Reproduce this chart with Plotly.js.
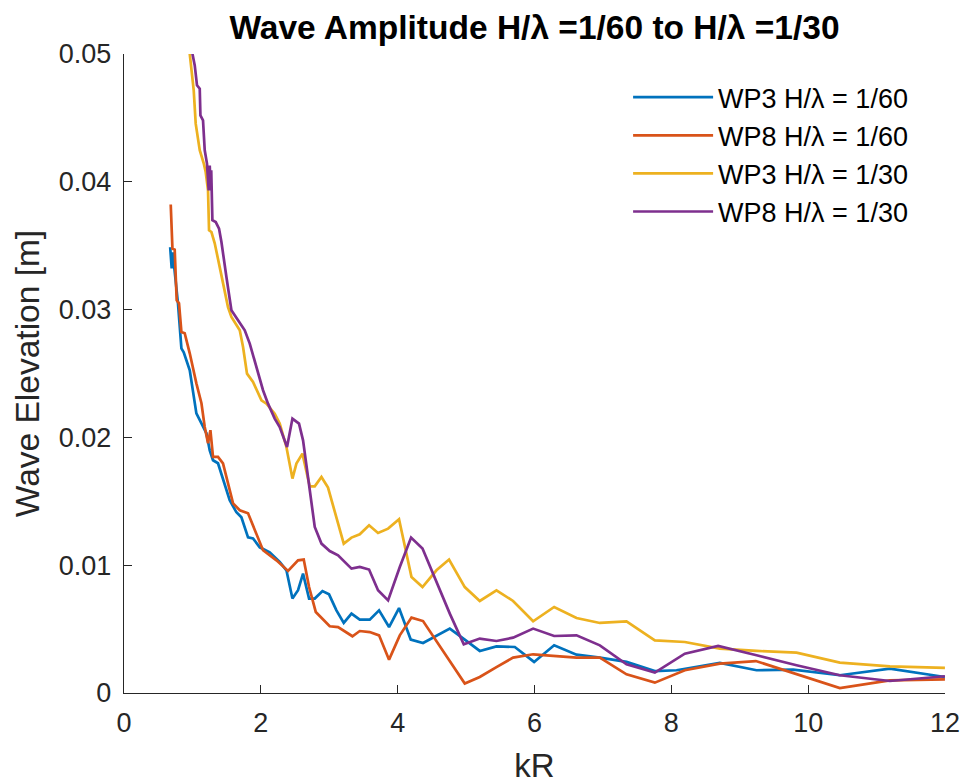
<!DOCTYPE html>
<html>
<head>
<meta charset="utf-8">
<script src="https://cdn.plot.ly/plotly-3.0.1.min.js"></script>
<style>html,body{margin:0;padding:0;background:#fff;}#chart{width:964px;height:784px;}</style>
</head>
<body>
<div id="chart"></div>
<script>
// WP3 H/λ = 1/60
const wp3_60_x = [0.675,0.697,0.712,0.789,0.839,0.873,0.961,1.058,1.132,1.205,1.253,1.301,1.374,1.472,1.545,1.643,1.716,1.813,1.886,1.984,2.130,2.276,2.374,2.462,2.544,2.617,2.705,2.788,2.901,2.997,3.105,3.212,3.325,3.446,3.592,3.728,3.874,4.020,4.191,4.371,4.567,4.762,4.981,5.200,5.444,5.712,5.994,6.287,6.614,6.955,7.345,7.759,8.076,8.709,9.246,9.781,10.463,11.194,11.999];
const wp3_60_y = [0.03488,0.03323,0.03448,0.03049,0.02697,0.02666,0.02525,0.02188,0.02110,0.02032,0.01899,0.01821,0.01798,0.01641,0.01508,0.01414,0.01375,0.01218,0.01210,0.01140,0.01101,0.01025,0.00960,0.00739,0.00804,0.00934,0.00739,0.00739,0.00798,0.00772,0.00647,0.00548,0.00621,0.00574,0.00574,0.00647,0.00516,0.00665,0.00418,0.00391,0.00451,0.00504,0.00418,0.00329,0.00365,0.00360,0.00243,0.00373,0.00300,0.00277,0.00243,0.00172,0.00178,0.00235,0.00178,0.00183,0.00139,0.00191,0.00125];

// WP8 H/λ = 1/60
const wp8_60_x = [0.683,0.708,0.741,0.770,0.804,0.839,0.887,0.961,1.058,1.132,1.180,1.228,1.263,1.301,1.374,1.447,1.594,1.692,1.813,1.911,2.032,2.228,2.398,2.544,2.627,2.705,2.803,3.007,3.129,3.339,3.446,3.592,3.728,3.874,4.031,4.202,4.371,4.981,5.200,5.444,5.687,5.980,6.614,6.955,7.345,7.759,8.197,8.709,9.235,10.463,11.194,11.999];
const wp8_60_y = [0.03822,0.03477,0.03469,0.03073,0.03049,0.02825,0.02815,0.02658,0.02423,0.02267,0.02081,0.01954,0.02056,0.01847,0.01847,0.01797,0.01484,0.01430,0.01406,0.01273,0.01117,0.01038,0.00955,0.01038,0.01044,0.00829,0.00634,0.00522,0.00516,0.00444,0.00485,0.00477,0.00451,0.00261,0.00451,0.00590,0.00563,0.00074,0.00125,0.00203,0.00277,0.00303,0.00277,0.00277,0.00146,0.00081,0.00178,0.00230,0.00250,0.00039,0.00099,0.00107];

// WP3 H/λ = 1/30
const wp3_30_x = [0.955,1.019,1.048,1.107,1.165,1.194,1.228,1.243,1.278,1.326,1.424,1.520,1.570,1.692,1.740,1.798,1.886,2.009,2.082,2.203,2.276,2.374,2.462,2.520,2.608,2.715,2.788,2.886,2.982,3.105,3.212,3.325,3.446,3.582,3.713,3.860,4.020,4.202,4.363,4.567,4.751,4.981,5.200,5.444,5.687,5.980,6.287,6.614,6.955,7.345,7.759,8.197,8.709,9.246,9.830,10.463,11.194,11.999];
const wp3_30_y = [0.0503,0.04716,0.04455,0.04247,0.04145,0.04077,0.03933,0.03621,0.03607,0.03519,0.03268,0.03020,0.02942,0.02838,0.02707,0.02499,0.02434,0.02290,0.02264,0.02186,0.02108,0.01925,0.01678,0.01795,0.01873,0.01617,0.01617,0.01690,0.01607,0.01377,0.01169,0.01216,0.01242,0.01312,0.01252,0.01286,0.01359,0.00908,0.00829,0.00960,0.01044,0.00829,0.00720,0.00804,0.00720,0.00561,0.00673,0.00587,0.00548,0.00561,0.00412,0.00399,0.00347,0.00329,0.00316,0.00238,0.00209,0.00196];

// WP8 H/λ = 1/30
const wp8_30_x = [0.990,1.034,1.067,1.107,1.117,1.155,1.180,1.213,1.238,1.253,1.268,1.275,1.292,1.341,1.389,1.424,1.497,1.570,1.667,1.765,1.838,1.936,2.032,2.105,2.203,2.276,2.383,2.462,2.558,2.617,2.788,2.886,3.007,3.129,3.202,3.325,3.446,3.582,3.713,3.860,4.031,4.196,4.363,4.542,4.762,4.966,5.200,5.444,5.687,5.980,6.287,6.614,6.955,7.345,7.759,8.197,8.684,9.246,9.830,10.463,11.194,11.999];
const wp8_30_y = [0.0503,0.04911,0.04755,0.04729,0.04520,0.04481,0.04247,0.04142,0.03933,0.04127,0.03933,0.04090,0.03699,0.03685,0.03634,0.03529,0.03255,0.02995,0.02916,0.02838,0.02734,0.02551,0.02369,0.02264,0.02147,0.02081,0.01925,0.02147,0.02108,0.01977,0.01299,0.01169,0.01111,0.01077,0.01038,0.00973,0.00986,0.00966,0.00804,0.00725,0.00986,0.01216,0.01130,0.00895,0.00621,0.00381,0.00426,0.00407,0.00433,0.00504,0.00446,0.00451,0.00373,0.00225,0.00160,0.00308,0.00368,0.00295,0.00217,0.00139,0.00094,0.00131];

const names = ['WP3 H/\u03bb = 1/60','WP8 H/\u03bb = 1/60','WP3 H/\u03bb = 1/30','WP8 H/\u03bb = 1/30'];
const colors = ['#0072BD','#D95319','#EDB120','#7E2F8E'];
const xs = [wp3_60_x, wp8_60_x, wp3_30_x, wp8_30_x];
const ys = [wp3_60_y, wp8_60_y, wp3_30_y, wp8_30_y];
const xTicks = [0,2,4,6,8,10,12];
const yTicks = [0,0.01,0.02,0.03,0.04,0.05];
const yTickText = ['0','0.01','0.02','0.03','0.04','0.05'];

const FONT = 'Liberation Sans, Arial, sans-serif';

const traces = names.map((n,i)=>({
  x: xs[i], y: ys[i], name: n, type: 'scatter', mode: 'lines',
  line: {color: colors[i], width: 2.7}
}));

const axisCommon = {
  showline: true, linecolor: '#262626', linewidth: 1.2,
  ticks: 'inside', ticklen: 8, tickwidth: 1.2, tickcolor: '#262626',
  showgrid: false, zeroline: false, mirror: false,
  tickfont: {family: FONT, size: 27, color: '#262626'}
};

const layout = {
  width: 964, height: 784,
  margin: {l: 124, r: 19, t: 54, b: 91},
  paper_bgcolor: '#fff', plot_bgcolor: '#fff',
  title: {text: '<b>Wave Amplitude H/\u03bb =1/60 to H/\u03bb =1/30</b>',
    font: {family: FONT, size: 33.5, color: '#000'},
    xref: 'paper', x: 0.5, xanchor: 'center', y: 0.965, yanchor: 'middle'},
  xaxis: Object.assign({}, axisCommon, {
    range: [0, 12], tickvals: xTicks, ticktext: xTicks.map(String),
    ticklabelstandoff: 5,
    title: {text: 'kR', font: {family: FONT, size: 33, color: '#262626'}, standoff: 20}
  }),
  yaxis: Object.assign({}, axisCommon, {
    range: [0, 0.05], tickvals: yTicks, ticktext: yTickText,
    ticklabelstandoff: 6,
    title: {text: 'Wave Elevation [m]', font: {family: FONT, size: 33.5, color: '#262626'}, standoff: 9}
  }),
  showlegend: true,
  legend: {x: 0.614, xanchor: 'left', y: 0.97, yanchor: 'top',
    bgcolor: 'rgba(255,255,255,0)', borderwidth: 0,
    font: {family: FONT, size: 27, color: '#000'},
    itemwidth: 80, tracegroupgap: 0}
};

Plotly.newPlot('chart', traces, layout, {displayModeBar: false, staticPlot: true});
</script>
</body>
</html>
